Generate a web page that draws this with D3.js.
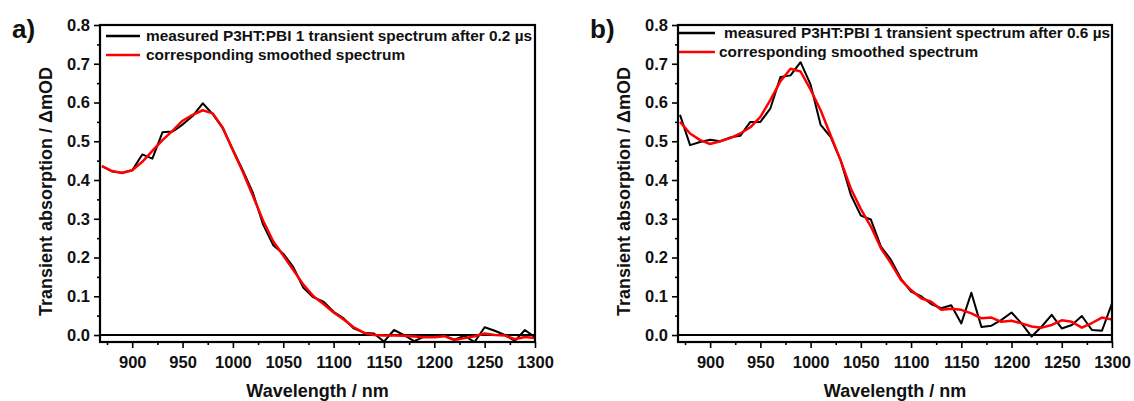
<!DOCTYPE html>
<html>
<head>
<meta charset="utf-8">
<script src="https://cdn.jsdelivr.net/npm/d3@7"></script>
<style>
  html, body { margin: 0; padding: 0; background: #fff; }
  svg { display: block; font-family: "Liberation Sans", Arial, sans-serif; font-weight: bold; }
</style>
</head>
<body>
<svg id="chart" width="1134" height="401"></svg>
<script>
// Wavelength grid (nm)
const wavelengths = [870, 880, 890, 900, 910, 920, 930, 940, 950, 960, 970, 980, 990, 1000,
  1010, 1020, 1030, 1040, 1050, 1060, 1070, 1080, 1090, 1100, 1110, 1120, 1130, 1140, 1150,
  1160, 1170, 1180, 1190, 1200, 1210, 1220, 1230, 1240, 1250, 1260, 1270, 1280, 1290, 1300];

// Panel a: spectrum after 0.2 µs (ΔmOD)
const measuredA = [0.436, 0.422, 0.419, 0.425, 0.466, 0.455, 0.523, 0.525, 0.543, 0.565, 0.598, 0.570, 0.533, 0.478,
  0.424, 0.366, 0.285, 0.232, 0.210, 0.175, 0.122, 0.097, 0.086, 0.060, 0.043, 0.017, 0.006, 0.004, -0.017,
  0.013, 0.000, -0.016, -0.004, -0.004, -0.002, -0.012, -0.002, -0.018, 0.020, 0.011, 0.000, -0.015, 0.013, -0.006];
const smoothedA = [0.436, 0.423, 0.418, 0.425, 0.447, 0.475, 0.503, 0.527, 0.553, 0.568, 0.580, 0.572, 0.535, 0.476,
  0.420, 0.358, 0.295, 0.242, 0.205, 0.168, 0.130, 0.100, 0.080, 0.058, 0.040, 0.020, 0.006, 0.000, -0.001,
  -0.001, -0.002, -0.004, -0.006, -0.006, -0.003, -0.013, -0.008, -0.003, 0.004, 0.000, -0.001, -0.011, -0.005, -0.008];

// Panel b: spectrum after 0.6 µs (ΔmOD)
const measuredB = [0.568, 0.490, 0.498, 0.504, 0.500, 0.510, 0.514, 0.550, 0.550, 0.585, 0.666, 0.670, 0.704, 0.646,
  0.542, 0.511, 0.450, 0.362, 0.308, 0.298, 0.228, 0.194, 0.145, 0.112, 0.100, 0.080, 0.069, 0.077, 0.030,
  0.109, 0.021, 0.024, 0.039, 0.058, 0.030, -0.004, 0.022, 0.052, 0.017, 0.026, 0.049, 0.013, 0.011, 0.082];
const smoothedB = [0.550, 0.520, 0.503, 0.493, 0.500, 0.508, 0.520, 0.536, 0.563, 0.607, 0.655, 0.687, 0.680, 0.633,
  0.580, 0.515, 0.450, 0.378, 0.325, 0.280, 0.224, 0.185, 0.142, 0.116, 0.095, 0.086, 0.065, 0.068, 0.065,
  0.056, 0.043, 0.045, 0.034, 0.037, 0.030, 0.022, 0.019, 0.026, 0.038, 0.034, 0.019, 0.031, 0.045, 0.040];

// Axis ticks
const xTicks = [900, 950, 1000, 1050, 1100, 1150, 1200, 1250, 1300];
const xMinorTicks = [875, 925, 975, 1025, 1075, 1125, 1175, 1225, 1275];
const yTicks = [0.0, 0.1, 0.2, 0.3, 0.4, 0.5, 0.6, 0.7, 0.8];
const yMinorTicks = [0.05, 0.15, 0.25, 0.35, 0.45, 0.55, 0.65, 0.75];

const panelLabels = ["a)", "b)"];
const legendMeasured = ["measured P3HT:PBI 1 transient spectrum after 0.2 µs",
                        "measured P3HT:PBI 1 transient spectrum after 0.6 µs"];
const legendSmoothed = "corresponding smoothed spectrum";
const xTitle = "Wavelength / nm";
const yTitle = "Transient absorption / \u0394mOD";

const svg = d3.select("#chart");

function drawPanel(idx, left, right, measured, smoothed, legendPos) {
  const top = 25, bottom = 342;
  const x = d3.scaleLinear().domain([868, 1300]).range([left, right]);
  const y = d3.scaleLinear().domain([-0.018, 0.8]).range([bottom, top]);
  const g = svg.append("g");

  const clipId = "clip" + idx;
  svg.append("clipPath").attr("id", clipId)
    .append("rect").attr("x", left).attr("y", top).attr("width", right - left).attr("height", bottom - top);

  // bottom axis with major and minor ticks
  const xAxis = d3.axisBottom(x).tickValues(xTicks).tickSize(6).tickPadding(8).tickFormat(d3.format("d"));
  g.append("g").attr("transform", `translate(0,${bottom})`).call(xAxis);
  g.append("g").attr("transform", `translate(0,${bottom})`)
    .call(d3.axisBottom(x).tickValues(xMinorTicks).tickSize(3).tickFormat(""));

  // left axis with major and minor ticks
  const yAxis = d3.axisLeft(y).tickValues(yTicks).tickSize(6).tickPadding(4).tickFormat(d3.format(".1f"));
  g.append("g").attr("transform", `translate(${left},0)`).call(yAxis);
  g.append("g").attr("transform", `translate(${left},0)`)
    .call(d3.axisLeft(y).tickValues(yMinorTicks).tickSize(3).tickFormat(""));

  g.selectAll(".domain").remove();
  g.selectAll(".tick line").attr("stroke", "#000").attr("stroke-width", 1.6);
  g.selectAll(".tick text").attr("fill", "#111").style("font-size", "16.5px").style("font-weight", "bold")
    .style("font-family", "'Liberation Sans', Arial, sans-serif");

  // zero line
  g.append("line").attr("x1", left).attr("x2", right).attr("y1", y(0)).attr("y2", y(0))
    .attr("stroke", "#000").attr("stroke-width", 1.8);

  // data lines
  const line = d3.line().x((d, i) => x(wavelengths[i])).y(d => y(d));
  const plot = g.append("g").attr("clip-path", `url(#${clipId})`);
  plot.append("path").datum(measured).attr("d", line)
    .attr("fill", "none").attr("stroke", "#000").attr("stroke-width", 2).attr("stroke-linejoin", "round");
  plot.append("path").datum(smoothed).attr("d", line)
    .attr("fill", "none").attr("stroke", "#f00").attr("stroke-width", 2.5).attr("stroke-linejoin", "round");

  // frame
  g.append("rect").attr("x", left).attr("y", top).attr("width", right - left).attr("height", bottom - top)
    .attr("fill", "none").attr("stroke", "#000").attr("stroke-width", 2.2);

  // legend
  const lg = g.append("g").style("font-size", "15.4px").attr("fill", "#111");
  lg.append("line").attr("x1", legendPos.x1).attr("x2", legendPos.x2)
    .attr("y1", legendPos.y1).attr("y2", legendPos.y1).attr("stroke", "#000").attr("stroke-width", 2.5);
  lg.append("text").attr("x", legendPos.t1).attr("y", legendPos.y1 + 5).text(legendMeasured[idx]);
  lg.append("line").attr("x1", legendPos.x1).attr("x2", legendPos.x2)
    .attr("y1", legendPos.y2).attr("y2", legendPos.y2).attr("stroke", "#f00").attr("stroke-width", 2.5);
  lg.append("text").attr("x", legendPos.t2).attr("y", legendPos.y2 + 5).text(legendSmoothed);

  // axis titles
  g.append("text").attr("x", (left + right) / 2).attr("y", 397).attr("text-anchor", "middle")
    .style("font-size", "18px").attr("fill", "#111").text(xTitle);
  g.append("text").attr("transform", `translate(${left - 48},${(top + bottom) / 2 + 8}) rotate(-90)`)
    .attr("text-anchor", "middle").style("font-size", "18px").attr("fill", "#111").text(yTitle);

  // panel letter
  g.append("text").attr("x", left - 88).attr("y", 38).style("font-size", "26px").attr("fill", "#111")
    .text(panelLabels[idx]);
}

drawPanel(0, 100, 535, measuredA, smoothedA, {x1: 106, x2: 140, t1: 146, t2: 146, y1: 36, y2: 55});
drawPanel(1, 678, 1112, measuredB, smoothedB, {x1: 679, x2: 715, t1: 724, t2: 719, y1: 33, y2: 52});
</script>
</body>
</html>
